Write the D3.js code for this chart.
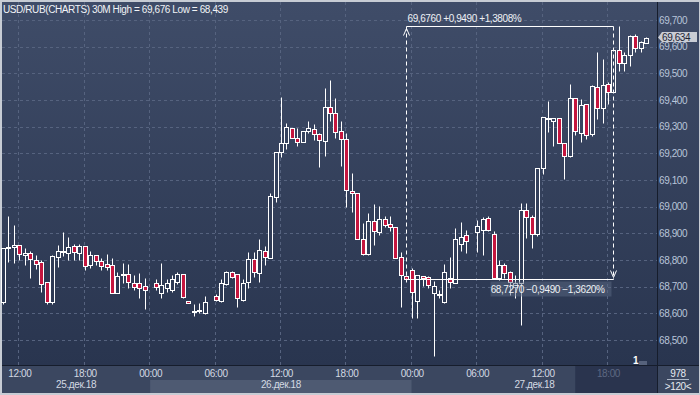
<!DOCTYPE html>
<html>
<head>
<meta charset="utf-8">
<script src="https://cdn.jsdelivr.net/npm/d3@7"></script>
<style>
  body { margin: 0; background: #c7ccd4; }
  svg { display: block; font-family: "Liberation Sans", Arial, sans-serif; letter-spacing: -0.4px; }
</style>
</head>
<body>
<div id="chart"></div>
<script>
// USD/RUB 30M candles, 25-27 Dec 2018 (time = "day HH:MM")
var times = [
  "25 10:30","25 11:00","25 11:30","25 12:00","25 12:30","25 13:00","25 13:30","25 14:00","25 14:30","25 15:00",
  "25 15:30","25 16:00","25 16:30","25 17:00","25 17:30","25 18:00","25 18:30","25 19:00","25 19:30","25 20:00",
  "25 20:30","25 21:00","25 21:30","25 22:00","25 22:30","25 23:00","25 23:30",
  "26 00:30","26 01:00","26 01:30","26 02:00","26 02:30","26 03:00","26 03:30","26 04:00","26 04:30","26 05:00",
  "26 06:00","26 06:30","26 07:00","26 07:30","26 08:00","26 08:30","26 09:00","26 09:30","26 10:00","26 10:30",
  "26 11:00","26 11:30","26 12:00","26 12:30","26 13:00","26 13:30","26 14:00","26 14:30","26 15:00","26 15:30",
  "26 16:00","26 16:30","26 17:00","26 17:30","26 18:00","26 18:30","26 19:00","26 19:30","26 20:00","26 20:30",
  "26 21:00","26 21:30","26 22:00","26 22:30","26 23:00","26 23:30",
  "27 00:00","27 00:30","27 01:00","27 01:30","27 02:00","27 02:30","27 03:00","27 03:30","27 04:00","27 04:30","27 05:00",
  "27 06:00","27 06:30","27 07:00","27 07:30","27 08:00","27 08:30","27 09:00","27 09:30","27 10:00","27 10:30",
  "27 11:00","27 11:30","27 12:00","27 12:30","27 13:00","27 13:30","27 14:00","27 14:30","27 15:00","27 15:30",
  "27 16:00","27 16:30","27 17:00","27 17:30","27 18:00","27 18:30","27 19:00","27 19:30","27 20:00","27 20:30",
  "27 21:00","27 21:30"
];

var opens = [
  68.643,68.845,68.849,68.856,68.819,68.826,68.800,68.793,68.718,68.643,
  68.811,68.830,68.826,68.853,68.826,68.853,68.781,68.819,68.796,68.785,
  68.781,68.676,68.744,68.748,68.714,68.714,68.703,
  68.714,68.676,68.695,68.688,68.718,68.748,68.646,68.605,68.609,68.601,
  68.665,68.646,68.710,68.755,68.748,68.650,68.718,68.804,68.751,68.834,
  68.808,69.036,69.205,69.239,69.295,69.258,69.243,69.284,69.291,69.273,
  69.246,69.374,69.351,69.284,69.254,69.059,69.051,68.879,68.823,68.946,
  68.905,68.954,68.935,68.924,68.811,68.740,
  68.763,68.646,68.740,68.736,68.676,68.669,68.643,68.733,68.714,68.860,68.894,
  68.905,68.913,68.958,68.898,68.733,68.781,68.755,68.699,68.714,68.988,
  68.961,68.898,69.145,69.329,69.321,69.333,69.239,69.190,69.408,69.276,
  69.385,69.273,69.449,69.370,69.460,69.430,69.588,69.539,69.569,69.640,
  69.595,69.614
];
var highs = [
  68.845,68.965,68.931,68.856,68.845,68.834,68.819,68.800,68.718,68.819,
  68.856,68.905,68.886,68.860,68.860,68.853,68.834,68.819,68.808,68.823,
  68.808,68.755,68.789,68.785,68.744,68.751,68.733,
  68.729,68.789,68.729,68.744,68.755,68.748,68.646,68.635,68.639,68.665,
  68.673,68.729,68.759,68.759,68.748,68.729,68.830,68.830,68.879,68.853,
  69.051,69.205,69.411,69.314,69.295,69.295,69.284,69.321,69.310,69.276,
  69.445,69.475,69.408,69.321,69.276,69.126,69.051,68.939,68.976,69.010,
  69.003,68.965,68.965,68.924,68.830,68.744,
  68.770,68.744,68.740,68.740,68.721,68.688,68.785,68.811,68.920,68.943,68.913,
  68.950,68.961,68.965,68.909,68.800,68.789,68.759,68.744,69.014,69.014,
  68.969,69.145,69.336,69.396,69.333,69.333,69.239,69.460,69.408,69.404,
  69.385,69.456,69.580,69.554,69.468,69.588,69.676,69.580,69.644,69.648,
  69.621,69.636
];
var lows = [
  68.635,68.793,68.789,68.800,68.781,68.733,68.766,68.680,68.635,68.635,
  68.774,68.815,68.800,68.800,68.800,68.763,68.770,68.781,68.763,68.763,
  68.676,68.676,68.714,68.695,68.688,68.658,68.616,
  68.688,68.658,68.680,68.680,68.710,68.658,68.639,68.590,68.601,68.598,
  68.646,68.643,68.706,68.733,68.624,68.646,68.695,68.736,68.718,68.781,
  68.808,69.018,69.186,69.216,69.258,69.228,69.243,69.276,69.250,69.149,
  69.190,69.321,69.258,69.153,68.999,68.980,68.879,68.819,68.819,68.856,
  68.894,68.924,68.909,68.808,68.624,68.718,
  68.582,68.582,68.703,68.695,68.439,68.658,68.639,68.695,68.714,68.834,68.826,
  68.830,68.819,68.909,68.729,68.725,68.733,68.669,68.658,68.556,68.883,
  68.845,68.890,69.123,69.280,69.228,69.239,69.104,69.186,69.269,69.243,
  69.254,69.265,69.329,69.314,69.385,69.430,69.509,69.509,69.528,69.580,
  69.580,69.614
];
var closes = [
  68.845,68.849,68.856,68.823,68.826,68.804,68.785,68.710,68.643,68.815,
  68.834,68.834,68.849,68.830,68.853,68.778,68.819,68.796,68.778,68.774,
  68.676,68.740,68.748,68.718,68.699,68.695,68.688,
  68.699,68.706,68.714,68.729,68.748,68.661,68.640,68.607,68.613,68.643,
  68.650,68.714,68.755,68.736,68.658,68.714,68.804,68.755,68.838,68.811,
  69.040,69.205,69.239,69.299,69.258,69.243,69.284,69.295,69.273,69.250,
  69.374,69.351,69.280,69.254,69.063,69.051,68.879,68.823,68.946,68.909,
  68.954,68.931,68.924,68.808,68.744,68.727,
  68.680,68.744,68.733,68.706,68.703,68.671,68.755,68.718,68.879,68.886,68.871,
  68.928,68.954,68.913,68.733,68.781,68.751,68.718,68.714,68.988,68.961,
  68.898,69.145,69.336,69.332,69.333,69.239,69.190,69.408,69.284,69.381,
  69.269,69.453,69.370,69.456,69.430,69.588,69.539,69.569,69.640,69.595,
  69.618,69.634
];

// visible window, price ticks, measure tool
var viewStart = "25 10:30", viewEnd = "27 22:30";
var priceMin = 68.5, priceMax = 69.7;
var dayLabels = ["25.дек.18", "26.дек.18", "27.дек.18"];
var dayStarts = ["25 00:00", "26 00:00", "27 00:00", "28 00:00"];
var shadeFrom = "27 15:00";
var measureTimes = ["26 23:30", "27 18:30"];
var measurePrices = [68.727, 69.676];
var lastPrice = 69.634;
var barsTotal = 978, barsShown = 120;

var W = 700, H = 395;
var pLeft = 2, pRight = 657, pTop = 2, pBottom = 365, axBottom = 393;

var parse = function (s) { return d3.timeParse("%Y-%m-%d %H:%M")("2018-12-" + s); };
var locale = d3.formatLocale({ decimal: ",", thousands: " ", grouping: [3], currency: ["", ""] });
var f3 = locale.format(".3f"), f4 = locale.format(".4f"), fs4 = locale.format("+.4f");

var bars = times.map(function (t, i) {
  return { date: parse(t), o: opens[i], h: highs[i], l: lows[i], c: closes[i] };
});

var x = d3.scaleTime().domain([parse(viewStart), parse(viewEnd)]).range([pLeft + 1, pRight]);
var y = d3.scaleLinear().domain([priceMin, priceMax]).range([340, 20]);
var px = function (v) { return Math.round(v) + 0.5; };

var svg = d3.select("#chart").append("svg").attr("width", W).attr("height", H);

var grad = svg.append("defs").append("linearGradient").attr("id", "bg")
  .attr("gradientUnits", "userSpaceOnUse")
  .attr("x1", 0).attr("y1", pTop).attr("x2", 0).attr("y2", pBottom);
grad.append("stop").attr("offset", 0).attr("stop-color", "#3f4c68");
grad.append("stop").attr("offset", 1).attr("stop-color", "#29354f");

// panels
svg.append("rect").attr("x", 0).attr("y", 0).attr("width", W).attr("height", H).attr("fill", "#c7ccd4");
svg.append("rect").attr("x", pLeft).attr("y", pTop).attr("width", W - pLeft - 1).attr("height", pBottom - pTop)
  .attr("fill", "url(#bg)");
svg.append("rect").attr("x", pLeft).attr("y", pBottom).attr("width", W - pLeft - 1).attr("height", axBottom - pBottom)
  .attr("fill", "#3b4760");

// day bands on the time axis
var days = dayLabels.map(function (lab, i) {
  var a = Math.max(x(parse(dayStarts[i])), pLeft), b = Math.min(x(parse(dayStarts[i + 1])), pRight);
  return { label: lab, a: a, b: b, i: i };
});
svg.append("g").selectAll("rect").data(days).join("rect")
  .attr("x", function (d) { return d.a; }).attr("y", 380)
  .attr("width", function (d) { return d.b - d.a; }).attr("height", axBottom - 380)
  .attr("fill", function (d) { return d.i % 2 ? "#4e5a72" : "#3b4760"; });
var shadeX = x(parse(shadeFrom));
svg.append("rect").attr("x", shadeX).attr("y", pBottom)
  .attr("width", pRight - shadeX).attr("height", axBottom - pBottom).attr("fill", "#2a344e");

// grid
var yTicks = y.ticks(12);
var xTicks = x.ticks(d3.timeHour.every(6));
var grid = svg.append("g").attr("stroke", "#56637f").attr("stroke-dasharray", "3,3");
grid.selectAll(".h").data(yTicks).join("line").attr("class", "h")
  .attr("x1", pLeft).attr("x2", pRight)
  .attr("y1", function (d) { return px(y(d)); }).attr("y2", function (d) { return px(y(d)); });
grid.selectAll(".v").data(xTicks).join("line").attr("class", "v")
  .attr("y1", pTop).attr("y2", pBottom)
  .attr("x1", function (d) { return px(x(d)) - 1; }).attr("x2", function (d) { return px(x(d)) - 1; });

// separators
svg.append("line").attr("x1", pLeft).attr("x2", W - 1).attr("y1", pBottom + 0.5).attr("y2", pBottom + 0.5).attr("stroke", "#161d2c");
svg.append("line").attr("x1", pRight + 0.5).attr("x2", pRight + 0.5).attr("y1", pTop).attr("y2", axBottom).attr("stroke", "#161d2c");

// candles
var cand = svg.append("g").selectAll("g").data(bars).join("g")
  .attr("transform", function (d) { return "translate(" + px(x(d.date)) + ",0)"; });
cand.append("line").attr("x1", 0).attr("x2", 0)
  .attr("y1", function (d) { return px(y(d.h)); }).attr("y2", function (d) { return px(y(d.l)); })
  .attr("stroke", "#ffffff");
cand.append("rect")
  .attr("x", -2).attr("width", 4)
  .attr("y", function (d) { return px(y(Math.max(d.o, d.c))); })
  .attr("height", function (d) { return Math.max(1, px(y(Math.min(d.o, d.c))) - px(y(Math.max(d.o, d.c)))); })
  .attr("fill", function (d) { return d.c < d.o ? "#c5163f" : "url(#bg)"; })
  .attr("stroke", "#ffffff");

// measure tool
var mx1 = px(x(parse(measureTimes[0]))), mx2 = px(x(parse(measureTimes[1])));
var myLo = px(y(measurePrices[0])), myHi = px(y(measurePrices[1]));
var diff = measurePrices[1] - measurePrices[0];
var mg = svg.append("g").attr("stroke", "#ffffff").attr("fill", "none");
mg.append("line").attr("x1", mx1).attr("x2", mx2).attr("y1", myHi).attr("y2", myHi);
mg.append("line").attr("x1", mx1).attr("x2", mx2).attr("y1", myLo).attr("y2", myLo);
mg.append("line").attr("x1", mx1).attr("x2", mx1).attr("y1", myHi).attr("y2", myLo).attr("stroke-dasharray", "4,3");
mg.append("line").attr("x1", mx2).attr("x2", mx2).attr("y1", myHi).attr("y2", myLo).attr("stroke-dasharray", "4,3");
mg.append("path").attr("d", "M" + (mx1 - 3) + "," + (myHi + 9) + "L" + mx1 + "," + (myHi + 2) + "L" + (mx1 + 3) + "," + (myHi + 9));
mg.append("path").attr("d", "M" + (mx2 - 3) + "," + (myLo - 9) + "L" + mx2 + "," + (myLo - 2) + "L" + (mx2 + 3) + "," + (myLo - 9));
svg.append("text").attr("x", mx1 + 1).attr("y", myHi - 5).attr("font-size", 10).attr("fill", "#eef1f5")
  .text(f4(measurePrices[1]) + " " + fs4(diff) + " " + fs4(diff / measurePrices[0] * 100) + "%");
svg.append("rect").attr("x", mx2 - 123).attr("y", myLo + 2).attr("width", 121).attr("height", 15)
  .attr("fill", "#5a6782").attr("opacity", 0.5);
svg.append("text").attr("x", mx2 - 9).attr("y", myLo + 13).attr("text-anchor", "end")
  .attr("font-size", 10).attr("fill", "#eef1f5")
  .text(f4(measurePrices[0]) + " " + fs4(-diff) + " " + fs4(-diff / measurePrices[1] * 100) + "%");

// price axis
var ya = svg.append("g").attr("transform", "translate(" + pRight + ",0)")
  .call(d3.axisRight(y).tickValues(yTicks).tickFormat(f3).tickSize(0).tickPadding(2));
ya.select(".domain").remove();
ya.selectAll("text").attr("font-size", 10).attr("fill", "#b9c5d9").attr("font-family", null);

// last price tag
var ly = y(lastPrice);
svg.append("path")
  .attr("d", "M" + (pRight + 1) + "," + ly + "L" + (pRight + 5) + "," + (ly - 5.5) + "L697," + (ly - 5.5) +
    "L697," + (ly + 4.5) + "L" + (pRight + 5) + "," + (ly + 4.5) + "Z")
  .attr("fill", "#c9cdd5");
svg.append("text").attr("x", pRight + 5).attr("y", ly + 3.5).attr("font-size", 10).attr("fill", "#1d2434").text(f3(lastPrice));

// time axis
var xa = svg.append("g").attr("transform", "translate(0," + (pBottom + 1) + ")")
  .call(d3.axisBottom(x).tickValues(xTicks).tickFormat(d3.timeFormat("%H:%M")).tickSize(0).tickPadding(4));
xa.select(".domain").remove();
xa.selectAll("text").attr("font-size", 10).attr("font-family", null)
  .attr("fill", function (d) { return d >= parse(shadeFrom) ? "#5d6882" : "#d3d9e3"; });
svg.append("g").selectAll("text").data(days).join("text")
  .attr("x", function (d) { return (d.a + d.b) / 2; }).attr("y", 388)
  .attr("text-anchor", "middle").attr("font-size", 10).attr("fill", "#d3d9e3")
  .text(function (d) { return d.label; });

// title
svg.append("text").attr("x", 3).attr("y", 13).attr("font-size", 10).attr("fill", "#f1f3f6")
  .text("USD/RUB(CHARTS) 30M  High = " + f3(d3.max(highs)) + " Low  = " + f3(d3.min(lows)));

// indicator mark at bottom right of plot
svg.append("text").attr("x", 633).attr("y", 364).attr("font-size", 10).attr("font-weight", "bold").attr("fill", "#ffffff").text("1");
svg.append("rect").attr("x", 639).attr("y", 361).attr("width", 8).attr("height", 4).attr("fill", "#56627c");

// bar counter
svg.append("text").attr("x", 678).attr("y", 377).attr("text-anchor", "middle").attr("font-size", 10).attr("fill", "#e6eaf0").text(barsTotal);
svg.append("line").attr("x1", 667).attr("x2", 689).attr("y1", 379.5).attr("y2", 379.5).attr("stroke", "#aeb8c8");
svg.append("text").attr("x", 678).attr("y", 390).attr("text-anchor", "middle").attr("font-size", 10).attr("fill", "#e6eaf0").text(">" + barsShown + "<");
</script>
</body>
</html>
